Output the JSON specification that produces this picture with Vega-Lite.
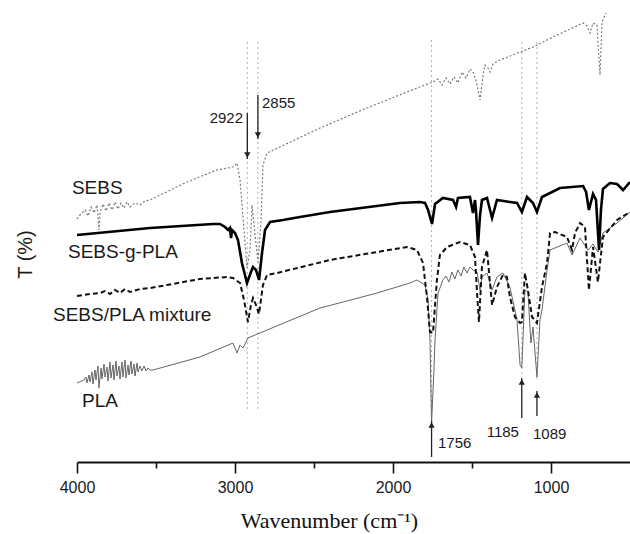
{
  "$schema": "https://vega.github.io/schema/vega-lite/v6.json",
  "width": 553,
  "height": 462,
  "autosize": {"type": "none"},
  "padding": {"left": 77, "top": 0, "right": 0, "bottom": 72},
  "background": "white",
  "view": {"stroke": null},
  "config": {"text": {"font": "Liberation Sans"}},
  "resolve": {"axis": {"x": "independent", "y": "independent"}},
  "datasets": {
    "spectra": [
      {"series": "SEBS", "wn": 4000, "t": 48.6}, {"series": "SEBS", "wn": 3981, "t": 49.4}, {"series": "SEBS", "wn": 3949, "t": 50.4},
      {"series": "SEBS", "wn": 3930, "t": 49.2}, {"series": "SEBS", "wn": 3911, "t": 51.0}, {"series": "SEBS", "wn": 3892, "t": 49.8},
      {"series": "SEBS", "wn": 3873, "t": 51.4}, {"series": "SEBS", "wn": 3861, "t": 46.4}, {"series": "SEBS", "wn": 3854, "t": 50.0},
      {"series": "SEBS", "wn": 3835, "t": 51.6},
      {"series": "SEBS", "wn": 3816, "t": 50.2}, {"series": "SEBS", "wn": 3797, "t": 51.8}, {"series": "SEBS", "wn": 3778, "t": 50.4},
      {"series": "SEBS", "wn": 3759, "t": 52.0}, {"series": "SEBS", "wn": 3741, "t": 50.6}, {"series": "SEBS", "wn": 3722, "t": 51.8},
      {"series": "SEBS", "wn": 3703, "t": 50.8}, {"series": "SEBS", "wn": 3684, "t": 52.0}, {"series": "SEBS", "wn": 3665, "t": 51.0},
      {"series": "SEBS", "wn": 3633, "t": 51.8}, {"series": "SEBS", "wn": 3601, "t": 51.4}, {"series": "SEBS", "wn": 3570, "t": 52.2},
      {"series": "SEBS", "wn": 3538, "t": 52.4}, {"series": "SEBS", "wn": 3304, "t": 56.0}, {"series": "SEBS", "wn": 3114, "t": 58.4},
      {"series": "SEBS", "wn": 3013, "t": 59.0}, {"series": "SEBS", "wn": 2987, "t": 59.8}, {"series": "SEBS", "wn": 2968, "t": 56.4},
      {"series": "SEBS", "wn": 2943, "t": 46.4}, {"series": "SEBS", "wn": 2924, "t": 38.8}, {"series": "SEBS", "wn": 2905, "t": 42.4},
      {"series": "SEBS", "wn": 2892, "t": 51.4}, {"series": "SEBS", "wn": 2873, "t": 45.4}, {"series": "SEBS", "wn": 2854, "t": 40.0},
      {"series": "SEBS", "wn": 2835, "t": 48.4}, {"series": "SEBS", "wn": 2823, "t": 59.4}, {"series": "SEBS", "wn": 2797, "t": 61.8},
      {"series": "SEBS", "wn": 2462, "t": 66.8}, {"series": "SEBS", "wn": 2165, "t": 70.8}, {"series": "SEBS", "wn": 1848, "t": 74.8},
      {"series": "SEBS", "wn": 1747, "t": 76.0}, {"series": "SEBS", "wn": 1715, "t": 76.6}, {"series": "SEBS", "wn": 1690, "t": 75.4},
      {"series": "SEBS", "wn": 1665, "t": 76.8}, {"series": "SEBS", "wn": 1639, "t": 75.6}, {"series": "SEBS", "wn": 1614, "t": 77.0},
      {"series": "SEBS", "wn": 1589, "t": 75.8}, {"series": "SEBS", "wn": 1563, "t": 78.0}, {"series": "SEBS", "wn": 1538, "t": 76.8},
      {"series": "SEBS", "wn": 1513, "t": 78.6}, {"series": "SEBS", "wn": 1494, "t": 78.0}, {"series": "SEBS", "wn": 1475, "t": 76.4},
      {"series": "SEBS", "wn": 1449, "t": 72.4}, {"series": "SEBS", "wn": 1430, "t": 77.4}, {"series": "SEBS", "wn": 1418, "t": 79.4},
      {"series": "SEBS", "wn": 1399, "t": 78.8}, {"series": "SEBS", "wn": 1386, "t": 78.0}, {"series": "SEBS", "wn": 1367, "t": 79.6},
      {"series": "SEBS", "wn": 1323, "t": 80.4}, {"series": "SEBS", "wn": 1114, "t": 83.0}, {"series": "SEBS", "wn": 987, "t": 85.0},
      {"series": "SEBS", "wn": 797, "t": 87.8}, {"series": "SEBS", "wn": 772, "t": 87.2}, {"series": "SEBS", "wn": 753, "t": 85.8},
      {"series": "SEBS", "wn": 734, "t": 87.8}, {"series": "SEBS", "wn": 709, "t": 87.4}, {"series": "SEBS", "wn": 690, "t": 77.4},
      {"series": "SEBS", "wn": 677, "t": 88.0}, {"series": "SEBS", "wn": 652, "t": 89.8},

      {"series": "SEBS-g-PLA", "wn": 4000, "t": 45.4}, {"series": "SEBS-g-PLA", "wn": 3538, "t": 46.8}, {"series": "SEBS-g-PLA", "wn": 3139, "t": 47.6},
      {"series": "SEBS-g-PLA", "wn": 3095, "t": 47.6}, {"series": "SEBS-g-PLA", "wn": 3063, "t": 47.0}, {"series": "SEBS-g-PLA", "wn": 3044, "t": 46.4},
      {"series": "SEBS-g-PLA", "wn": 3032, "t": 46.8}, {"series": "SEBS-g-PLA", "wn": 3025, "t": 44.8}, {"series": "SEBS-g-PLA", "wn": 3019, "t": 46.4},
      {"series": "SEBS-g-PLA", "wn": 3000, "t": 45.8}, {"series": "SEBS-g-PLA", "wn": 2981, "t": 44.4}, {"series": "SEBS-g-PLA", "wn": 2956, "t": 39.8},
      {"series": "SEBS-g-PLA", "wn": 2924, "t": 35.8}, {"series": "SEBS-g-PLA", "wn": 2899, "t": 38.0}, {"series": "SEBS-g-PLA", "wn": 2886, "t": 39.0},
      {"series": "SEBS-g-PLA", "wn": 2867, "t": 38.4}, {"series": "SEBS-g-PLA", "wn": 2848, "t": 36.4}, {"series": "SEBS-g-PLA", "wn": 2829, "t": 41.8},
      {"series": "SEBS-g-PLA", "wn": 2810, "t": 46.4}, {"series": "SEBS-g-PLA", "wn": 2778, "t": 48.0}, {"series": "SEBS-g-PLA", "wn": 2696, "t": 48.4},
      {"series": "SEBS-g-PLA", "wn": 2589, "t": 49.0}, {"series": "SEBS-g-PLA", "wn": 2399, "t": 50.0}, {"series": "SEBS-g-PLA", "wn": 1956, "t": 51.8},
      {"series": "SEBS-g-PLA", "wn": 1829, "t": 52.0}, {"series": "SEBS-g-PLA", "wn": 1797, "t": 51.8}, {"series": "SEBS-g-PLA", "wn": 1778, "t": 50.4},
      {"series": "SEBS-g-PLA", "wn": 1753, "t": 47.6}, {"series": "SEBS-g-PLA", "wn": 1734, "t": 51.6}, {"series": "SEBS-g-PLA", "wn": 1684, "t": 52.8},
      {"series": "SEBS-g-PLA", "wn": 1620, "t": 52.4}, {"series": "SEBS-g-PLA", "wn": 1601, "t": 51.0}, {"series": "SEBS-g-PLA", "wn": 1589, "t": 52.8},
      {"series": "SEBS-g-PLA", "wn": 1513, "t": 53.0}, {"series": "SEBS-g-PLA", "wn": 1494, "t": 49.8}, {"series": "SEBS-g-PLA", "wn": 1481, "t": 52.4},
      {"series": "SEBS-g-PLA", "wn": 1475, "t": 50.4}, {"series": "SEBS-g-PLA", "wn": 1462, "t": 43.4}, {"series": "SEBS-g-PLA", "wn": 1449, "t": 49.4},
      {"series": "SEBS-g-PLA", "wn": 1437, "t": 52.4}, {"series": "SEBS-g-PLA", "wn": 1405, "t": 52.8}, {"series": "SEBS-g-PLA", "wn": 1373, "t": 48.8},
      {"series": "SEBS-g-PLA", "wn": 1342, "t": 52.4}, {"series": "SEBS-g-PLA", "wn": 1260, "t": 52.0}, {"series": "SEBS-g-PLA", "wn": 1215, "t": 51.8},
      {"series": "SEBS-g-PLA", "wn": 1184, "t": 50.0}, {"series": "SEBS-g-PLA", "wn": 1152, "t": 53.0}, {"series": "SEBS-g-PLA", "wn": 1114, "t": 51.8},
      {"series": "SEBS-g-PLA", "wn": 1089, "t": 50.0}, {"series": "SEBS-g-PLA", "wn": 1057, "t": 53.0}, {"series": "SEBS-g-PLA", "wn": 943, "t": 54.8},
      {"series": "SEBS-g-PLA", "wn": 797, "t": 55.2}, {"series": "SEBS-g-PLA", "wn": 778, "t": 54.0}, {"series": "SEBS-g-PLA", "wn": 760, "t": 50.4},
      {"series": "SEBS-g-PLA", "wn": 734, "t": 53.6}, {"series": "SEBS-g-PLA", "wn": 715, "t": 52.4}, {"series": "SEBS-g-PLA", "wn": 696, "t": 42.4},
      {"series": "SEBS-g-PLA", "wn": 684, "t": 50.4}, {"series": "SEBS-g-PLA", "wn": 671, "t": 54.6}, {"series": "SEBS-g-PLA", "wn": 627, "t": 55.8},
      {"series": "SEBS-g-PLA", "wn": 582, "t": 55.6}, {"series": "SEBS-g-PLA", "wn": 544, "t": 54.4}, {"series": "SEBS-g-PLA", "wn": 500, "t": 56.0},

      {"series": "SEBS/PLA mixture", "wn": 4000, "t": 33.2}, {"series": "SEBS/PLA mixture", "wn": 3918, "t": 33.6}, {"series": "SEBS/PLA mixture", "wn": 3854, "t": 33.8},
      {"series": "SEBS/PLA mixture", "wn": 3823, "t": 34.2}, {"series": "SEBS/PLA mixture", "wn": 3791, "t": 33.6}, {"series": "SEBS/PLA mixture", "wn": 3760, "t": 34.4},
      {"series": "SEBS/PLA mixture", "wn": 3728, "t": 33.8}, {"series": "SEBS/PLA mixture", "wn": 3696, "t": 34.6}, {"series": "SEBS/PLA mixture", "wn": 3665, "t": 34.0},
      {"series": "SEBS/PLA mixture", "wn": 3601, "t": 34.6}, {"series": "SEBS/PLA mixture", "wn": 3538, "t": 34.8}, {"series": "SEBS/PLA mixture", "wn": 3430, "t": 35.4},
      {"series": "SEBS/PLA mixture", "wn": 3222, "t": 36.6}, {"series": "SEBS/PLA mixture", "wn": 3051, "t": 37.0}, {"series": "SEBS/PLA mixture", "wn": 3013, "t": 36.8},
      {"series": "SEBS/PLA mixture", "wn": 2968, "t": 35.8}, {"series": "SEBS/PLA mixture", "wn": 2943, "t": 32.4}, {"series": "SEBS/PLA mixture", "wn": 2918, "t": 28.0},
      {"series": "SEBS/PLA mixture", "wn": 2899, "t": 31.4}, {"series": "SEBS/PLA mixture", "wn": 2886, "t": 32.8}, {"series": "SEBS/PLA mixture", "wn": 2867, "t": 31.4},
      {"series": "SEBS/PLA mixture", "wn": 2848, "t": 29.6}, {"series": "SEBS/PLA mixture", "wn": 2823, "t": 35.4}, {"series": "SEBS/PLA mixture", "wn": 2797, "t": 37.4},
      {"series": "SEBS/PLA mixture", "wn": 2734, "t": 37.8}, {"series": "SEBS/PLA mixture", "wn": 2399, "t": 40.4}, {"series": "SEBS/PLA mixture", "wn": 2101, "t": 42.0},
      {"series": "SEBS/PLA mixture", "wn": 1911, "t": 43.0}, {"series": "SEBS/PLA mixture", "wn": 1848, "t": 42.4}, {"series": "SEBS/PLA mixture", "wn": 1810, "t": 39.8},
      {"series": "SEBS/PLA mixture", "wn": 1785, "t": 33.0}, {"series": "SEBS/PLA mixture", "wn": 1766, "t": 26.0}, {"series": "SEBS/PLA mixture", "wn": 1747, "t": 25.8},
      {"series": "SEBS/PLA mixture", "wn": 1722, "t": 36.4}, {"series": "SEBS/PLA mixture", "wn": 1703, "t": 41.4}, {"series": "SEBS/PLA mixture", "wn": 1658, "t": 43.0},
      {"series": "SEBS/PLA mixture", "wn": 1576, "t": 44.0}, {"series": "SEBS/PLA mixture", "wn": 1513, "t": 43.4}, {"series": "SEBS/PLA mixture", "wn": 1481, "t": 41.0},
      {"series": "SEBS/PLA mixture", "wn": 1468, "t": 33.8}, {"series": "SEBS/PLA mixture", "wn": 1456, "t": 28.0}, {"series": "SEBS/PLA mixture", "wn": 1437, "t": 39.0},
      {"series": "SEBS/PLA mixture", "wn": 1405, "t": 42.4}, {"series": "SEBS/PLA mixture", "wn": 1392, "t": 37.8}, {"series": "SEBS/PLA mixture", "wn": 1373, "t": 31.4},
      {"series": "SEBS/PLA mixture", "wn": 1342, "t": 35.0}, {"series": "SEBS/PLA mixture", "wn": 1304, "t": 37.4}, {"series": "SEBS/PLA mixture", "wn": 1279, "t": 37.0},
      {"series": "SEBS/PLA mixture", "wn": 1260, "t": 33.0}, {"series": "SEBS/PLA mixture", "wn": 1228, "t": 29.0}, {"series": "SEBS/PLA mixture", "wn": 1196, "t": 27.8},
      {"series": "SEBS/PLA mixture", "wn": 1184, "t": 28.0}, {"series": "SEBS/PLA mixture", "wn": 1165, "t": 37.8}, {"series": "SEBS/PLA mixture", "wn": 1146, "t": 34.4},
      {"series": "SEBS/PLA mixture", "wn": 1120, "t": 29.0}, {"series": "SEBS/PLA mixture", "wn": 1089, "t": 27.8}, {"series": "SEBS/PLA mixture", "wn": 1057, "t": 35.0},
      {"series": "SEBS/PLA mixture", "wn": 1025, "t": 39.8}, {"series": "SEBS/PLA mixture", "wn": 1006, "t": 45.8}, {"series": "SEBS/PLA mixture", "wn": 975, "t": 46.0},
      {"series": "SEBS/PLA mixture", "wn": 899, "t": 45.0}, {"series": "SEBS/PLA mixture", "wn": 867, "t": 42.4}, {"series": "SEBS/PLA mixture", "wn": 848, "t": 45.8},
      {"series": "SEBS/PLA mixture", "wn": 816, "t": 47.8}, {"series": "SEBS/PLA mixture", "wn": 785, "t": 47.0}, {"series": "SEBS/PLA mixture", "wn": 760, "t": 34.4},
      {"series": "SEBS/PLA mixture", "wn": 734, "t": 43.0}, {"series": "SEBS/PLA mixture", "wn": 703, "t": 36.0}, {"series": "SEBS/PLA mixture", "wn": 671, "t": 45.0},
      {"series": "SEBS/PLA mixture", "wn": 582, "t": 48.4}, {"series": "SEBS/PLA mixture", "wn": 500, "t": 50.0},

      {"series": "PLA", "wn": 4000, "t": 15.8}, {"series": "PLA", "wn": 3956, "t": 16.4}, {"series": "PLA", "wn": 3943, "t": 17.0},
      {"series": "PLA", "wn": 3937, "t": 15.8}, {"series": "PLA", "wn": 3924, "t": 17.4}, {"series": "PLA", "wn": 3918, "t": 16.0},
      {"series": "PLA", "wn": 3905, "t": 18.0}, {"series": "PLA", "wn": 3899, "t": 15.6}, {"series": "PLA", "wn": 3886, "t": 18.4},
      {"series": "PLA", "wn": 3880, "t": 16.4}, {"series": "PLA", "wn": 3867, "t": 19.2}, {"series": "PLA", "wn": 3861, "t": 14.8},
      {"series": "PLA", "wn": 3848, "t": 18.8}, {"series": "PLA", "wn": 3842, "t": 16.6}, {"series": "PLA", "wn": 3829, "t": 19.6},
      {"series": "PLA", "wn": 3823, "t": 17.0}, {"series": "PLA", "wn": 3810, "t": 19.0}, {"series": "PLA", "wn": 3804, "t": 16.2},
      {"series": "PLA", "wn": 3791, "t": 20.0}, {"series": "PLA", "wn": 3785, "t": 16.8}, {"series": "PLA", "wn": 3772, "t": 19.4},
      {"series": "PLA", "wn": 3766, "t": 16.4}, {"series": "PLA", "wn": 3753, "t": 20.2}, {"series": "PLA", "wn": 3747, "t": 17.2},
      {"series": "PLA", "wn": 3734, "t": 19.2}, {"series": "PLA", "wn": 3728, "t": 16.6}, {"series": "PLA", "wn": 3715, "t": 20.0},
      {"series": "PLA", "wn": 3709, "t": 17.0}, {"series": "PLA", "wn": 3696, "t": 20.4}, {"series": "PLA", "wn": 3690, "t": 16.8},
      {"series": "PLA", "wn": 3677, "t": 19.4}, {"series": "PLA", "wn": 3671, "t": 17.4}, {"series": "PLA", "wn": 3658, "t": 20.2},
      {"series": "PLA", "wn": 3652, "t": 17.6}, {"series": "PLA", "wn": 3639, "t": 19.6}, {"series": "PLA", "wn": 3633, "t": 17.2},
      {"series": "PLA", "wn": 3620, "t": 19.8}, {"series": "PLA", "wn": 3614, "t": 18.0}, {"series": "PLA", "wn": 3601, "t": 19.2},
      {"series": "PLA", "wn": 3589, "t": 18.2}, {"series": "PLA", "wn": 3576, "t": 19.2}, {"series": "PLA", "wn": 3563, "t": 18.2},
      {"series": "PLA", "wn": 3551, "t": 18.8}, {"series": "PLA", "wn": 3538, "t": 18.4}, {"series": "PLA", "wn": 3519, "t": 18.4},
      {"series": "PLA", "wn": 3222, "t": 21.0},
      {"series": "PLA", "wn": 3013, "t": 23.8}, {"series": "PLA", "wn": 2987, "t": 21.8}, {"series": "PLA", "wn": 2968, "t": 23.4},
      {"series": "PLA", "wn": 2949, "t": 22.8}, {"series": "PLA", "wn": 2918, "t": 24.8}, {"series": "PLA", "wn": 2797, "t": 26.4},
      {"series": "PLA", "wn": 2462, "t": 30.8}, {"series": "PLA", "wn": 2316, "t": 32.0}, {"series": "PLA", "wn": 2101, "t": 33.8},
      {"series": "PLA", "wn": 1892, "t": 35.8}, {"series": "PLA", "wn": 1848, "t": 36.4}, {"series": "PLA", "wn": 1797, "t": 35.4},
      {"series": "PLA", "wn": 1778, "t": 32.4}, {"series": "PLA", "wn": 1766, "t": 24.4}, {"series": "PLA", "wn": 1756, "t": 7.8},
      {"series": "PLA", "wn": 1741, "t": 18.4}, {"series": "PLA", "wn": 1734, "t": 24.4}, {"series": "PLA", "wn": 1715, "t": 33.8},
      {"series": "PLA", "wn": 1684, "t": 36.4}, {"series": "PLA", "wn": 1665, "t": 37.2}, {"series": "PLA", "wn": 1646, "t": 36.0},
      {"series": "PLA", "wn": 1627, "t": 38.0}, {"series": "PLA", "wn": 1608, "t": 36.6}, {"series": "PLA", "wn": 1589, "t": 38.4},
      {"series": "PLA", "wn": 1570, "t": 37.2}, {"series": "PLA", "wn": 1551, "t": 39.0}, {"series": "PLA", "wn": 1532, "t": 37.8},
      {"series": "PLA", "wn": 1513, "t": 39.0}, {"series": "PLA", "wn": 1494, "t": 38.4}, {"series": "PLA", "wn": 1468, "t": 38.0},
      {"series": "PLA", "wn": 1449, "t": 34.4}, {"series": "PLA", "wn": 1437, "t": 37.0}, {"series": "PLA", "wn": 1405, "t": 37.8},
      {"series": "PLA", "wn": 1373, "t": 34.4}, {"series": "PLA", "wn": 1342, "t": 37.0}, {"series": "PLA", "wn": 1304, "t": 37.8},
      {"series": "PLA", "wn": 1260, "t": 35.0}, {"series": "PLA", "wn": 1215, "t": 28.4}, {"series": "PLA", "wn": 1196, "t": 19.4},
      {"series": "PLA", "wn": 1185, "t": 18.8}, {"series": "PLA", "wn": 1165, "t": 34.4}, {"series": "PLA", "wn": 1146, "t": 34.0},
      {"series": "PLA", "wn": 1127, "t": 23.8}, {"series": "PLA", "wn": 1114, "t": 27.0}, {"series": "PLA", "wn": 1089, "t": 17.0},
      {"series": "PLA", "wn": 1070, "t": 28.4}, {"series": "PLA", "wn": 1057, "t": 30.4}, {"series": "PLA", "wn": 1025, "t": 38.4},
      {"series": "PLA", "wn": 1006, "t": 42.4}, {"series": "PLA", "wn": 899, "t": 43.8}, {"series": "PLA", "wn": 867, "t": 41.4},
      {"series": "PLA", "wn": 816, "t": 44.8}, {"series": "PLA", "wn": 766, "t": 42.4}, {"series": "PLA", "wn": 734, "t": 43.6},
      {"series": "PLA", "wn": 703, "t": 42.0}, {"series": "PLA", "wn": 671, "t": 45.8}, {"series": "PLA", "wn": 582, "t": 47.8},
      {"series": "PLA", "wn": 500, "t": 50.0}
    ],
    "guides": [
      {"wn": 2922, "top": 84, "bottom": 10.4},
      {"wn": 2855, "top": 84, "bottom": 10.4},
      {"wn": 1756, "top": 84.4, "bottom": 1},
      {"wn": 1185, "top": 84, "bottom": 17},
      {"wn": 1089, "top": 84, "bottom": 16.4}
    ],
    "arrows": [
      {"wn": 2922, "tail": 69.8, "tip": 60.6, "dir": "down", "head": 61.4},
      {"wn": 2855, "tail": 73.4, "tip": 64.6, "dir": "down", "head": 65.4},
      {"wn": 1756, "tail": 1.0, "tip": 8.2, "dir": "up", "head": 7.4},
      {"wn": 1185, "tail": 8.8, "tip": 16.8, "dir": "up", "head": 16.0},
      {"wn": 1089, "tail": 9.2, "tip": 14.2, "dir": "up", "head": 13.4}
    ],
    "peakLabels": [
      {"text": "2922", "wn": 2949, "t": 68.8, "side": "right"},
      {"text": "2855", "wn": 2829, "t": 71.8, "side": "left"},
      {"text": "1756", "wn": 1715, "t": 3.8, "side": "left"},
      {"text": "1185", "wn": 1203, "t": 6.0, "side": "right"},
      {"text": "1089", "wn": 1114, "t": 5.6, "side": "left"}
    ],
    "seriesLabels": [
      {"text": "SEBS", "wn": 4032, "t": 54.8, "style": "normal"},
      {"text": "SEBS-", "wn": 4057, "t": 42.0, "style": "normal"},
      {"text": "g", "wn": 3696, "t": 42.0, "style": "italic"},
      {"text": "-PLA", "wn": 3629, "t": 42.0, "style": "normal"},
      {"text": "SEBS/PLA mixture", "wn": 4152, "t": 29.4, "style": "normal"},
      {"text": "PLA", "wn": 3968, "t": 12.2, "style": "normal"}
    ]
  },
  "layer": [
    {
      "data": {"name": "guides"},
      "mark": {"type": "rule", "color": "#b0b0b0", "strokeWidth": 1, "strokeDash": [2, 3]},
      "encoding": {
        "x": {
          "field": "wn", "type": "quantitative",
          "scale": {"domain": [500, 4000], "reverse": true, "nice": false, "zero": false},
          "axis": {
            "orient": "bottom",
            "values": [4000, 3500, 3000, 2500, 2000, 1500, 1000],
            "format": "d",
            "labelExpr": "datum.value % 1000 === 0 ? datum.label : ''",
            "tickSize": {"condition": {"test": "datum.value % 1000 === 0", "value": 11}, "value": 6},
            "tickColor": "#111111",
            "tickWidth": 1.6,
            "domainColor": "#111111",
            "domainWidth": 2,
            "grid": false,
            "labelFlush": false,
            "labelOverlap": false,
            "labelFont": "Liberation Sans",
            "labelFontSize": 16,
            "labelColor": "#1a1a1a",
            "labelPadding": 6,
            "title": "Wavenumber (cm⁻¹)",
            "titleFont": "Liberation Serif",
            "titleFontSize": 22,
            "titleFontWeight": "normal",
            "titleColor": "#111111",
            "titleX": 252,
            "titleY": 65,
            "titleAlign": "center",
            "titleBaseline": "alphabetic"
          }
        },
        "y": {
          "field": "top", "type": "quantitative",
          "scale": {"domain": [0, 92.4], "nice": false, "zero": false},
          "axis": {
            "orient": "left",
            "domain": false, "ticks": false, "labels": false, "grid": false,
            "title": "T (%)",
            "titleFont": "Liberation Sans",
            "titleFontSize": 20,
            "titleFontWeight": "normal",
            "titleColor": "#1a1a1a",
            "titleAngle": -90,
            "titleX": -52,
            "titleY": 254,
            "titleAlign": "center",
            "titleBaseline": "middle"
          }
        },
        "y2": {"field": "bottom"}
      }
    },
    {
      "data": {"name": "spectra"},
      "transform": [{"filter": "datum.series === 'SEBS'"}],
      "mark": {"type": "line", "color": "#7a7a7a", "strokeWidth": 1.2, "strokeDash": [2, 2]},
      "encoding": {
        "x": {"field": "wn", "type": "quantitative", "scale": {"domain": [500, 4000], "reverse": true, "nice": false, "zero": false}, "axis": null},
        "y": {"field": "t", "type": "quantitative", "scale": {"domain": [0, 92.4], "nice": false, "zero": false}, "axis": null}
      }
    },
    {
      "data": {"name": "spectra"},
      "transform": [{"filter": "datum.series === 'PLA'"}],
      "mark": {"type": "line", "color": "#666666", "strokeWidth": 1},
      "encoding": {
        "x": {"field": "wn", "type": "quantitative", "scale": {"domain": [500, 4000], "reverse": true, "nice": false, "zero": false}, "axis": null},
        "y": {"field": "t", "type": "quantitative", "scale": {"domain": [0, 92.4], "nice": false, "zero": false}, "axis": null}
      }
    },
    {
      "data": {"name": "spectra"},
      "transform": [{"filter": "datum.series === 'SEBS/PLA mixture'"}],
      "mark": {"type": "line", "color": "#111111", "strokeWidth": 2, "strokeDash": [5, 3]},
      "encoding": {
        "x": {"field": "wn", "type": "quantitative", "scale": {"domain": [500, 4000], "reverse": true, "nice": false, "zero": false}, "axis": null},
        "y": {"field": "t", "type": "quantitative", "scale": {"domain": [0, 92.4], "nice": false, "zero": false}, "axis": null}
      }
    },
    {
      "data": {"name": "spectra"},
      "transform": [{"filter": "datum.series === 'SEBS-g-PLA'"}],
      "mark": {"type": "line", "color": "#000000", "strokeWidth": 2.6},
      "encoding": {
        "x": {"field": "wn", "type": "quantitative", "scale": {"domain": [500, 4000], "reverse": true, "nice": false, "zero": false}, "axis": null},
        "y": {"field": "t", "type": "quantitative", "scale": {"domain": [0, 92.4], "nice": false, "zero": false}, "axis": null}
      }
    },
    {
      "data": {"name": "arrows"},
      "mark": {"type": "rule", "color": "#222222", "strokeWidth": 1.3},
      "encoding": {
        "x": {"field": "wn", "type": "quantitative", "scale": {"domain": [500, 4000], "reverse": true, "nice": false, "zero": false}, "axis": null},
        "y": {"field": "tail", "type": "quantitative", "scale": {"domain": [0, 92.4], "nice": false, "zero": false}, "axis": null},
        "y2": {"field": "tip"}
      }
    },
    {
      "data": {"name": "arrows"},
      "mark": {"type": "point", "filled": true, "color": "#222222", "opacity": 1, "size": 40},
      "encoding": {
        "x": {"field": "wn", "type": "quantitative", "scale": {"domain": [500, 4000], "reverse": true, "nice": false, "zero": false}, "axis": null},
        "y": {"field": "head", "type": "quantitative", "scale": {"domain": [0, 92.4], "nice": false, "zero": false}, "axis": null},
        "shape": {"field": "dir", "type": "nominal", "scale": {"domain": ["down", "up"], "range": ["triangle-down", "triangle-up"]}, "legend": null}
      }
    },
    {
      "data": {"name": "peakLabels"},
      "transform": [{"filter": "datum.side === 'left'"}],
      "mark": {"type": "text", "align": "left", "baseline": "middle", "fontSize": 15, "color": "#1a1a1a"},
      "encoding": {
        "x": {"field": "wn", "type": "quantitative", "scale": {"domain": [500, 4000], "reverse": true, "nice": false, "zero": false}, "axis": null},
        "y": {"field": "t", "type": "quantitative", "scale": {"domain": [0, 92.4], "nice": false, "zero": false}, "axis": null},
        "text": {"field": "text"}
      }
    },
    {
      "data": {"name": "peakLabels"},
      "transform": [{"filter": "datum.side === 'right'"}],
      "mark": {"type": "text", "align": "right", "baseline": "middle", "fontSize": 15, "color": "#1a1a1a"},
      "encoding": {
        "x": {"field": "wn", "type": "quantitative", "scale": {"domain": [500, 4000], "reverse": true, "nice": false, "zero": false}, "axis": null},
        "y": {"field": "t", "type": "quantitative", "scale": {"domain": [0, 92.4], "nice": false, "zero": false}, "axis": null},
        "text": {"field": "text"}
      }
    },
    {
      "data": {"name": "seriesLabels"},
      "mark": {"type": "text", "align": "left", "baseline": "middle", "fontSize": 19, "color": "#1a1a1a"},
      "encoding": {
        "x": {"field": "wn", "type": "quantitative", "scale": {"domain": [500, 4000], "reverse": true, "nice": false, "zero": false}, "axis": null},
        "y": {"field": "t", "type": "quantitative", "scale": {"domain": [0, 92.4], "nice": false, "zero": false}, "axis": null},
        "text": {"field": "text"},
        "fontStyle": {"field": "style", "type": "nominal", "scale": null}
      }
    }
  ]
}
